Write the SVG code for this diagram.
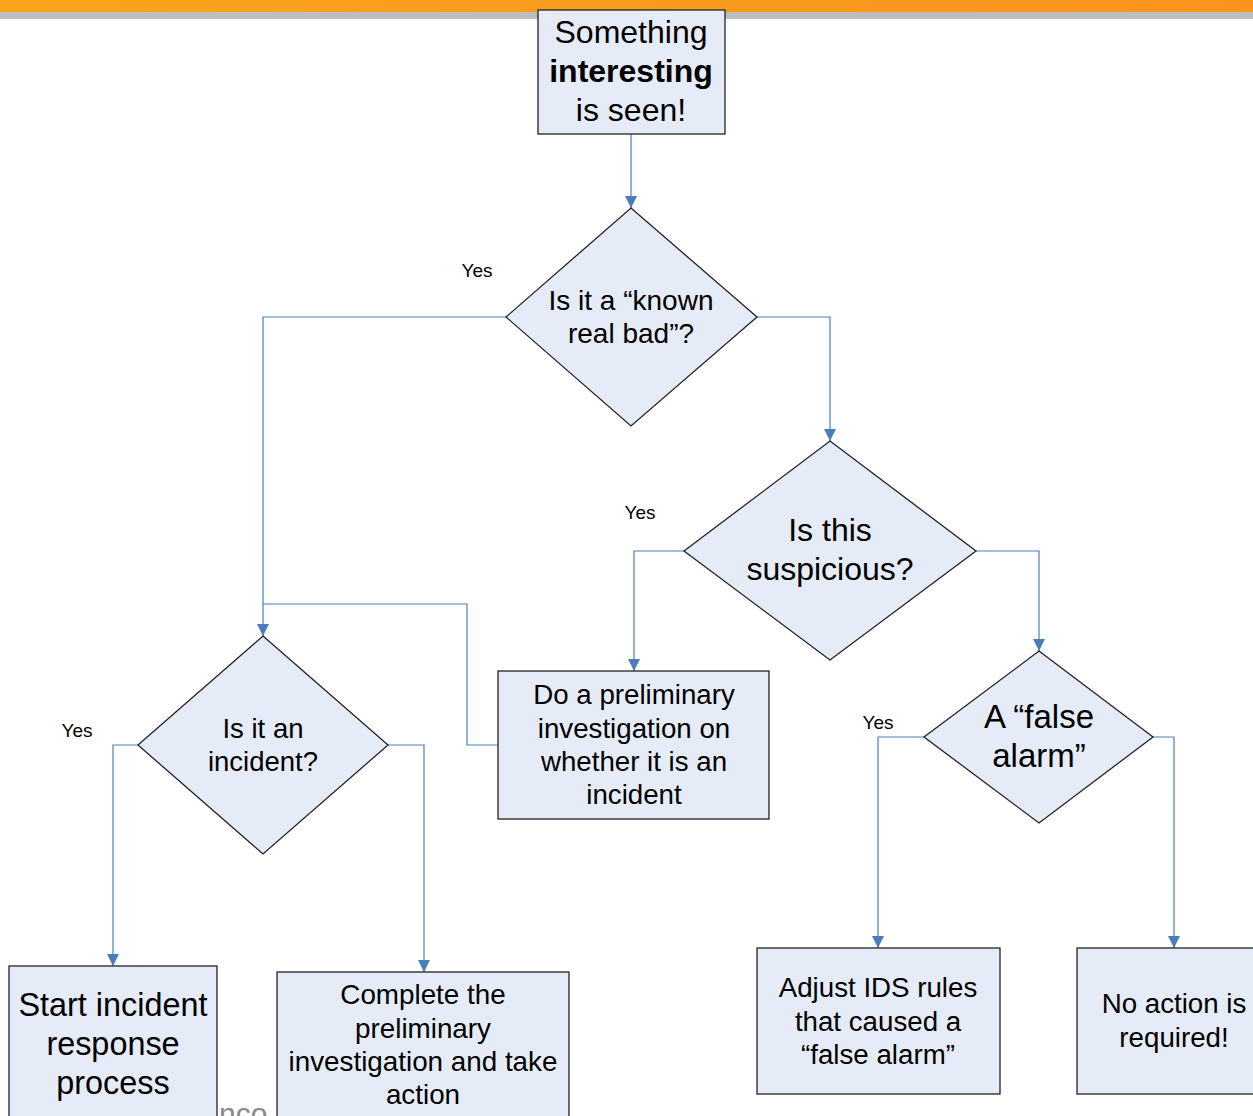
<svg xmlns="http://www.w3.org/2000/svg" width="1253" height="1116" viewBox="0 0 1253 1116">
<defs>
<linearGradient id="bar" x1="0" y1="0" x2="1" y2="0">
<stop offset="0" stop-color="#F9A31B"/>
<stop offset="1" stop-color="#F7941D"/>
</linearGradient>
<marker id="ah" viewBox="0 0 10 10" refX="10" refY="5" markerWidth="12" markerHeight="12" markerUnits="userSpaceOnUse" orient="auto">
<path d="M0,0 L10,5 L0,10 z" fill="#4A7EBB"/>
</marker>
<style>
.n{fill:#E6ECF7;stroke:#222;stroke-width:1.3}
.t{font-family:"Liberation Sans",Arial,sans-serif;fill:#000;text-anchor:middle}
.c{fill:none;stroke:#4A7EBB;stroke-width:1.2;marker-end:url(#ah)}
.c2{fill:none;stroke:#4A7EBB;stroke-width:1.2}
.y{font-family:"Liberation Sans",Arial,sans-serif;font-size:19px;fill:#000;text-anchor:middle}
</style>
</defs>
<rect x="0" y="0" width="1253" height="20" fill="#fff"/>
<rect x="0" y="0" width="1253" height="12" fill="url(#bar)"/>
<rect x="0" y="12" width="1253" height="7" fill="#BBBDBF"/>
<text x="219" y="1124" font-family="Liberation Sans,Arial,sans-serif" font-size="30" fill="#888">nco</text>

<g id="connectors">
<path class="c" d="M631,134 V208"/>
<path class="c" d="M506,317 H263 V636"/>
<path class="c" d="M757,317 H830 V441"/>
<path class="c" d="M684,551 H634 V671"/>
<path class="c" d="M976,551 H1039 V651"/>
<path class="c2" d="M498,745 H467 V604 H263"/>
<path class="c" d="M138,745 H113 V966"/>
<path class="c" d="M388,745 H424 V972"/>
<path class="c" d="M924,737 H878 V948"/>
<path class="c" d="M1153,737 H1174 V948"/>
<text class="y" x="477" y="277">Yes</text>
<text class="y" x="640" y="519">Yes</text>
<text class="y" x="77" y="737">Yes</text>
<text class="y" x="878" y="729">Yes</text>
</g>

<g id="start">
<rect class="n" x="538" y="10" width="187" height="124"/>
<text class="t" font-size="32" x="631" y="43">Something</text>
<text class="t" font-size="32" x="631" y="82" font-weight="bold">interesting</text>
<text class="t" font-size="32" x="631" y="121">is seen!</text>
</g>

<g id="known">
<polygon class="n" points="631,208 757,317 631,426 506,317"/>
<text class="t" font-size="28" x="631" y="310">Is it a “known</text>
<text class="t" font-size="28" x="631" y="343">real bad”?</text>
</g>

<g id="suspicious">
<polygon class="n" points="830,441 976,551 830,660 684,551"/>
<text class="t" font-size="32" x="830" y="541">Is this</text>
<text class="t" font-size="32" x="830" y="580">suspicious?</text>
</g>

<g id="prelim">
<rect class="n" x="498" y="671" width="271" height="148"/>
<text class="t" font-size="27.7" x="634" y="704">Do a preliminary</text>
<text class="t" font-size="27.7" x="634" y="738">investigation on</text>
<text class="t" font-size="27.7" x="634" y="771">whether it is an</text>
<text class="t" font-size="27.7" x="634" y="804">incident</text>
</g>

<g id="incident">
<polygon class="n" points="263,636 388,745 263,854 138,745"/>
<text class="t" font-size="27.5" x="263" y="738">Is it an</text>
<text class="t" font-size="27.5" x="263" y="771">incident?</text>
</g>

<g id="falsealarm">
<polygon class="n" points="1039,651 1153,737 1039,823 924,737"/>
<text class="t" font-size="33" x="1039" y="728">A “false</text>
<text class="t" font-size="33" x="1039" y="767">alarm”</text>
</g>

<g id="startir">
<rect class="n" x="9" y="966" width="208" height="160"/>
<text class="t" font-size="32.4" x="113" y="1016">Start incident</text>
<text class="t" font-size="32.4" x="113" y="1055">response</text>
<text class="t" font-size="32.4" x="113" y="1094">process</text>
</g>

<g id="complete">
<rect class="n" x="277" y="972" width="292" height="154"/>
<text class="t" font-size="27.8" x="423" y="1004">Complete the</text>
<text class="t" font-size="27.8" x="423" y="1038">preliminary</text>
<text class="t" font-size="27.8" x="423" y="1071">investigation and take</text>
<text class="t" font-size="27.8" x="423" y="1104">action</text>
</g>

<g id="adjust">
<rect class="n" x="757" y="948" width="243" height="146"/>
<text class="t" font-size="27.7" x="878" y="997">Adjust IDS rules</text>
<text class="t" font-size="27.7" x="878" y="1031">that caused a</text>
<text class="t" font-size="27.7" x="878" y="1064">“false alarm”</text>
</g>

<g id="noaction">
<rect class="n" x="1077" y="948" width="190" height="146"/>
<text class="t" font-size="27.7" x="1174" y="1013">No action is</text>
<text class="t" font-size="27.7" x="1174" y="1047">required!</text>
</g>
</svg>
